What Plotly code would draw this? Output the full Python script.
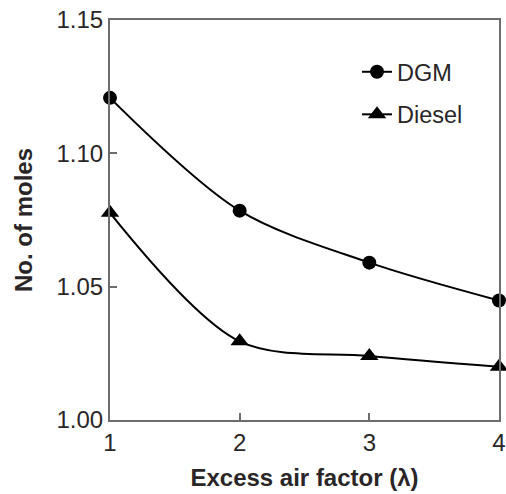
import plotly.graph_objects as go

excess_air = [1, 2, 3, 4]
dgm_moles = [1.1208, 1.0785, 1.0590, 1.0448]
diesel_moles = [1.0777, 1.0295, 1.0240, 1.0200]

y_ticks = [1.00, 1.05, 1.10, 1.15]
y_tick_labels = ["1.00", "1.05", "1.10", "1.15"]
x_ticks = [1, 2, 3, 4]

FONT = "Liberation Sans, Arial"
TXT = "#2a2627"

fig = go.Figure()
fig.add_trace(go.Scatter(
    x=excess_air, y=dgm_moles, name="DGM", mode="lines+markers",
    line=dict(color="black", width=2, shape="spline", smoothing=0.9),
    marker=dict(symbol="circle", size=14, color="black"),
    legendgroup="a", cliponaxis=False))
fig.add_trace(go.Scatter(
    x=excess_air, y=diesel_moles, name="Diesel", mode="lines+markers",
    line=dict(color="black", width=2, shape="spline", smoothing=0.9),
    marker=dict(symbol="triangle-up", size=16, color="black"),
    legendgroup="b", cliponaxis=False))

axis_common = dict(showline=True, linecolor="#6d6d6d", linewidth=2, mirror=True,
                   ticks="inside", ticklen=7, tickcolor="#6d6d6d", tickwidth=1.5,
                   showgrid=False, zeroline=False, automargin=False,
                   tickfont=dict(family=FONT, size=24, color=TXT))

fig.update_layout(
    width=506, height=494,
    margin=dict(l=110, r=7, t=20, b=74),
    plot_bgcolor="white", paper_bgcolor="white",
    xaxis=dict(range=[1, 4], tickvals=x_ticks, ticktext=[str(v) for v in x_ticks],
               title=dict(text="<b>Excess air factor (λ)</b>", standoff=14,
                          font=dict(family=FONT, size=24, color=TXT)),
               **axis_common),
    yaxis=dict(range=[1.0, 1.15], tickvals=y_ticks, ticktext=y_tick_labels,
               title=dict(text="<b>No. of moles</b>", standoff=17,
                          font=dict(family=FONT, size=24, color=TXT)),
               **axis_common),
    legend=dict(x=0.635, y=0.925, xanchor="left", yanchor="top",
                bgcolor="rgba(0,0,0,0)", tracegroupgap=9, traceorder="grouped",
                font=dict(family=FONT, size=23.5, color=TXT)),
    showlegend=True,
)

fig.write_html("out.html")
